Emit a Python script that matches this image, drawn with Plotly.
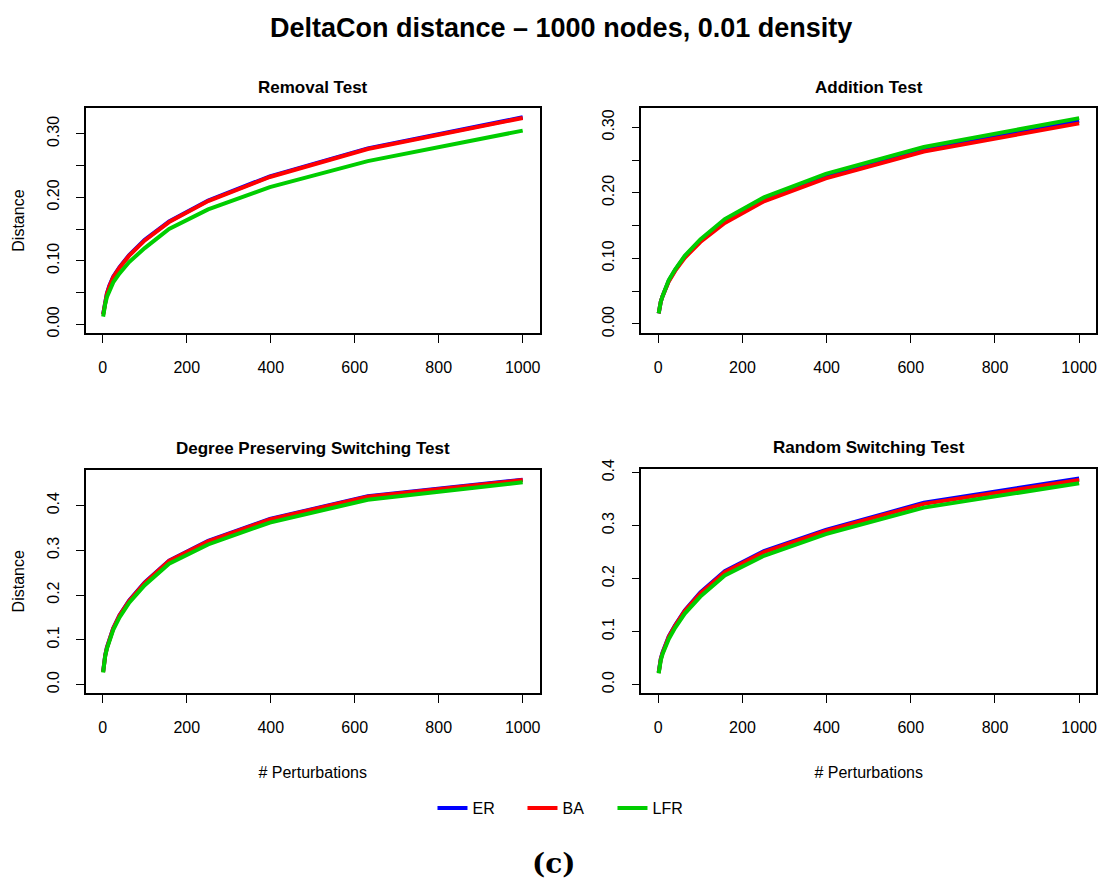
import plotly.graph_objects as go

W, H = 1105, 883

x_pert = [1, 2, 3, 4, 6, 10, 16, 25, 40, 63, 100, 158, 251, 398, 631, 1000]

removal_er = [0.016, 0.021, 0.026, 0.030, 0.037, 0.049, 0.061, 0.075, 0.090, 0.109, 0.133, 0.162, 0.195, 0.233, 0.277, 0.326]
removal_ba = [0.015, 0.020, 0.025, 0.029, 0.036, 0.048, 0.060, 0.074, 0.089, 0.108, 0.132, 0.161, 0.194, 0.232, 0.276, 0.325]
removal_lfr = [0.012, 0.017, 0.022, 0.026, 0.032, 0.043, 0.054, 0.066, 0.080, 0.098, 0.120, 0.150, 0.181, 0.216, 0.257, 0.305]

addition_er = [0.016, 0.021, 0.025, 0.029, 0.034, 0.042, 0.053, 0.066, 0.082, 0.103, 0.127, 0.157, 0.190, 0.226, 0.267, 0.310]
addition_ba = [0.016, 0.021, 0.025, 0.029, 0.034, 0.042, 0.052, 0.065, 0.081, 0.101, 0.125, 0.154, 0.187, 0.222, 0.263, 0.306]
addition_lfr = [0.016, 0.021, 0.025, 0.029, 0.034, 0.042, 0.053, 0.067, 0.083, 0.104, 0.129, 0.160, 0.193, 0.229, 0.270, 0.314]

dps_er = [0.029, 0.041, 0.049, 0.056, 0.066, 0.083, 0.103, 0.126, 0.155, 0.188, 0.228, 0.277, 0.321, 0.370, 0.421, 0.458]
dps_ba = [0.028, 0.040, 0.048, 0.055, 0.065, 0.082, 0.102, 0.125, 0.154, 0.187, 0.227, 0.276, 0.320, 0.369, 0.420, 0.457]
dps_lfr = [0.027, 0.039, 0.047, 0.054, 0.064, 0.080, 0.100, 0.122, 0.150, 0.183, 0.222, 0.270, 0.313, 0.362, 0.413, 0.452]

random_er = [0.023, 0.031, 0.037, 0.042, 0.049, 0.060, 0.074, 0.091, 0.112, 0.140, 0.174, 0.214, 0.252, 0.292, 0.343, 0.389]
random_ba = [0.022, 0.030, 0.036, 0.041, 0.048, 0.059, 0.073, 0.090, 0.111, 0.139, 0.172, 0.212, 0.250, 0.290, 0.341, 0.386]
random_lfr = [0.021, 0.029, 0.035, 0.040, 0.046, 0.057, 0.070, 0.086, 0.107, 0.134, 0.166, 0.206, 0.243, 0.284, 0.334, 0.380]

series_names = ["ER", "BA", "LFR"]
series_colors = ["#0000FF", "#FF0000", "#00CD00"]

panel_titles = ["Removal Test", "Addition Test", "Degree Preserving Switching Test", "Random Switching Test"]
panel_data = [
    [removal_er, removal_ba, removal_lfr],
    [addition_er, addition_ba, addition_lfr],
    [dps_er, dps_ba, dps_lfr],
    [random_er, random_ba, random_lfr],
]

x_ticks = [0, 200, 400, 600, 800, 1000]
y_ticks_top = [0.00, 0.05, 0.10, 0.15, 0.20, 0.25, 0.30]
y_ticktext_top = ["0.00", "", "0.10", "", "0.20", "", "0.30"]
y_ticks_bottom = [0.0, 0.1, 0.2, 0.3, 0.4]
y_ticktext_bottom = ["0.0", "0.1", "0.2", "0.3", "0.4"]

# pixel boxes (left, top, right, bottom)
boxes = [(86, 100, 540, 328), (642, 100, 1097, 328), (86, 467, 540, 694), (642, 466, 1097, 694)]
y_ranges = [(-0.0135, 0.340), (-0.0135, 0.3288), (-0.019, 0.4804), (-0.016, 0.4076)]

FONT = "Liberation Sans Narrow, Arial Narrow, Liberation Sans, Arial, sans-serif"
FONT_REG = "Liberation Sans, Arial, sans-serif"

fig = go.Figure()
layout = dict(
    width=W, height=H,
    margin=dict(l=0, r=0, t=0, b=0),
    paper_bgcolor="white", plot_bgcolor="white",
    font=dict(family=FONT_REG, color="black", size=16),
    showlegend=True,
)
annotations = []
for i, (title, ys) in enumerate(zip(panel_titles, panel_data)):
    ax = "" if i == 0 else str(i + 1)
    l, t, r, b = boxes[i]
    for k in range(3):
        fig.add_trace(go.Scatter(
            x=x_pert, y=ys[k], mode="lines", name=series_names[k],
            line=dict(color=series_colors[k], width=4),
            showlegend=(i == 0), legendgroup=series_names[k],
            xaxis="x" + ax, yaxis="y" + ax,
        ))
    top = i < 2
    layout["xaxis" + ax] = dict(
        domain=[l / W, r / W], range=[-40, 1040], anchor="y" + ax,
        tickvals=x_ticks, ticks="outside", ticklen=8, tickwidth=1, tickcolor="black",
        showline=True, mirror=True, linecolor="black", linewidth=1.5,
        showgrid=False, zeroline=False, tickfont=dict(size=16, family=FONT_REG),
        ticklabelstandoff=11,
        title=None if top else dict(text="# Perturbations", font=dict(size=16), standoff=32),
    )
    layout["yaxis" + ax] = dict(
        domain=[1 - b / H, 1 - t / H], range=list(y_ranges[i]), anchor="x" + ax,
        tickvals=y_ticks_top if top else y_ticks_bottom,
        ticktext=y_ticktext_top if top else y_ticktext_bottom,
        ticks="outside", ticklen=8, tickwidth=1, tickcolor="black",
        showline=True, mirror=True, linecolor="black", linewidth=1.5,
        showgrid=False, zeroline=False, tickangle=-90,
        tickfont=dict(size=16, family=FONT_REG), ticklabelstandoff=11,
        title=dict(text="Distance", font=dict(size=16), standoff=16) if i in (0, 2) else None,
    )
    annotations.append(dict(
        text="<b>" + title + "</b>", x=(l + r) / 2 / W, y=1 - (t - 21) / H,
        xref="paper", yref="paper", showarrow=False, xanchor="center", yanchor="middle",
        font=dict(size=17, family=FONT),
    ))

annotations.append(dict(
    text="<b>DeltaCon distance \u2013 1000 nodes, 0.01 density</b>", x=562 / W, y=1 - 18 / H,
    xref="paper", yref="paper", showarrow=False, xanchor="center", yanchor="middle",
    font=dict(size=27, family=FONT),
))
annotations.append(dict(
    text="<b>(c)</b>", x=555 / W, y=1 - 867 / H,
    xref="paper", yref="paper", showarrow=False, xanchor="center", yanchor="middle",
    font=dict(size=28, family="DejaVu Serif, Liberation Serif, serif"),
))
layout["annotations"] = annotations
layout["legend"] = dict(
    orientation="h", x=568 / W, y=1 - 811 / H, xanchor="center", yanchor="middle",
    font=dict(size=16, family=FONT_REG), entrywidth=45, entrywidthmode="pixels",
    bgcolor="rgba(0,0,0,0)",
)
fig.update_layout(**layout)
fig.write_html("out.html")
